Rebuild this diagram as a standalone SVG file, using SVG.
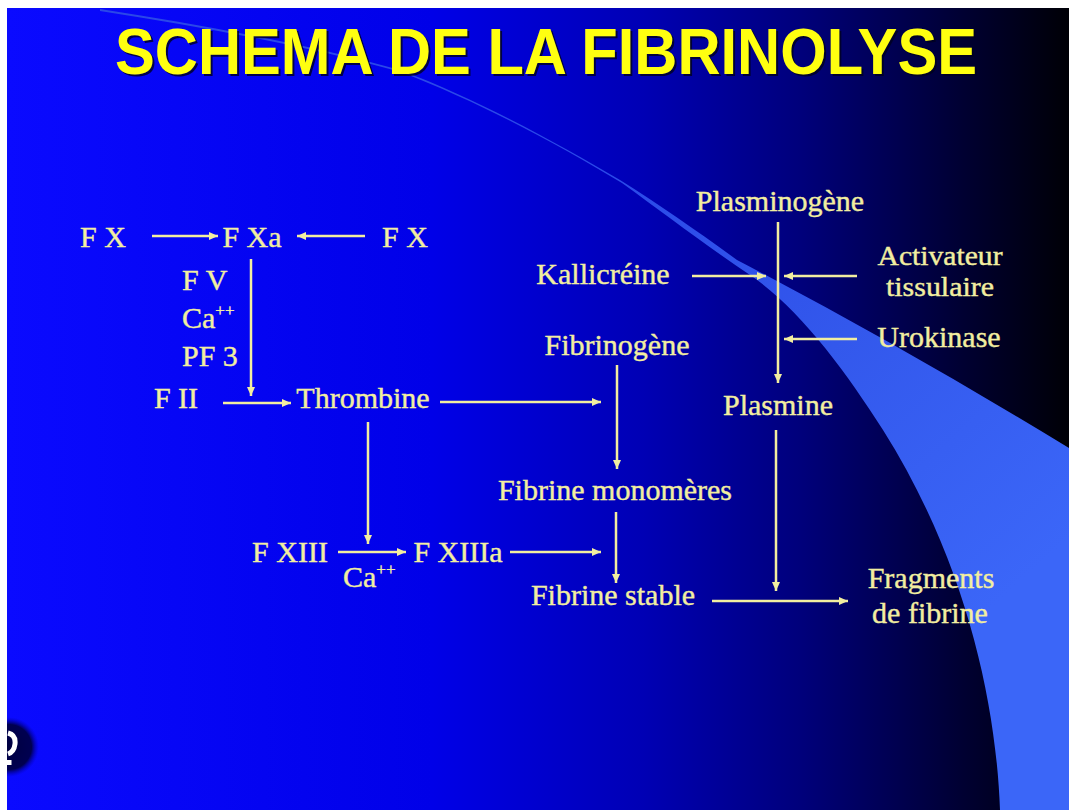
<svg xmlns="http://www.w3.org/2000/svg" width="1069" height="810" viewBox="0 0 1069 810">
<defs>
<linearGradient id="bg" x1="0" y1="0" x2="1" y2="0">
<stop offset="0" stop-color="#0a0aff"/>
<stop offset="0.4" stop-color="#0000e8"/>
<stop offset="0.6" stop-color="#0000b4"/>
<stop offset="0.75" stop-color="#00007a"/>
<stop offset="0.9" stop-color="#000032"/>
<stop offset="1" stop-color="#000006"/>
</linearGradient>
<linearGradient id="band" gradientUnits="userSpaceOnUse" x1="600" y1="150" x2="1000" y2="600">
<stop offset="0" stop-color="#2a48e8"/>
<stop offset="0.5" stop-color="#3358ec"/>
<stop offset="1" stop-color="#3b66f8"/>
</linearGradient>
<radialGradient id="dot" cx="0.5" cy="0.5" r="0.5">
<stop offset="0" stop-color="#000040"/>
<stop offset="0.75" stop-color="#000050"/>
<stop offset="1" stop-color="#0000c0" stop-opacity="0"/>
</radialGradient>
<marker id="ah" markerUnits="userSpaceOnUse" markerWidth="10" markerHeight="10" refX="9" refY="5" orient="auto">
<path d="M0,1 L9,5 L0,9 Z" fill="#f2eea0"/>
</marker>
<style>
.t{font-family:"Liberation Serif","Times New Roman",serif;font-size:30px;fill:#f2eea0;stroke:#f2eea0;stroke-width:0.4}
.m{text-anchor:middle}
.s{font-size:27px}
.sup{font-size:17px}
.c{stroke:#f2eea0;stroke-width:2.5;fill:none;marker-end:url(#ah)}
.title{font-family:"Liberation Sans",Arial,sans-serif;font-weight:bold;font-size:64px}
</style>
</defs>
<rect x="0" y="0" width="1069" height="810" fill="#ffffff"/>
<rect x="7" y="8" width="1062" height="802" fill="url(#bg)"/>
<path d="M100,9 C200,25 300,42 400,70 C480,100 560,145 620,180 C660,205 700,233 737,260 Q900,345 1069,448 L1069,810 L1000,810 C996,700 965,560 883,430 C845,370 800,310 753,277 C705,245 665,214 622,183 C562,147 482,103 401,72 C300,44 200,27 100,11 Z" fill="url(#band)"/>
<circle cx="9" cy="747" r="30" fill="url(#dot)"/>
<path d="M8,733 Q16,735 15,744 Q14,752 8,754 M9,760 L9,765" stroke="#ffffff" stroke-width="5" fill="none"/>
<rect x="0" y="700" width="7" height="110" fill="#ffffff"/>
<g id="title">
<text class="title" x="117" y="76" textLength="862" lengthAdjust="spacingAndGlyphs" fill="#000020" opacity="0.8">SCHEMA DE LA FIBRINOLYSE</text>
<text class="title" x="115" y="74" textLength="862" lengthAdjust="spacingAndGlyphs" fill="#ffff10">SCHEMA DE LA FIBRINOLYSE</text>
</g>
<g id="connectors">
<line class="c" x1="152" y1="236" x2="218" y2="236"/>
<line class="c" x1="365" y1="236" x2="297" y2="236"/>
<line class="c" x1="251" y1="259" x2="251" y2="396"/>
<line class="c" x1="223" y1="403" x2="291" y2="403"/>
<line class="c" x1="440" y1="402" x2="601" y2="402"/>
<line class="c" x1="368" y1="422" x2="368" y2="544"/>
<line class="c" x1="338" y1="552" x2="406" y2="552"/>
<line class="c" x1="510" y1="552" x2="601" y2="552"/>
<line class="c" x1="617" y1="365" x2="617" y2="469"/>
<line class="c" x1="616" y1="512" x2="616" y2="583"/>
<line class="c" x1="712" y1="601" x2="848" y2="601"/>
<line class="c" x1="778" y1="222" x2="778" y2="383"/>
<line class="c" x1="692" y1="276" x2="766" y2="276"/>
<line class="c" x1="857" y1="276" x2="784" y2="276"/>
<line class="c" x1="857" y1="339" x2="784" y2="339"/>
<line class="c" x1="776" y1="430" x2="776" y2="591"/>
</g>
<g id="n-fx1"><text class="t m" x="103" y="247">F X</text></g>
<g id="n-fxa"><text class="t m" x="252" y="247">F Xa</text></g>
<g id="n-fx2"><text class="t m" x="405" y="247">F X</text></g>
<g id="n-cofactors">
<text class="t" x="182" y="290">F V</text>
<text class="t" x="182" y="328">Ca<tspan class="sup" dy="-12">++</tspan></text>
<text class="t" x="182" y="366">PF 3</text>
</g>
<g id="n-fii"><text class="t m" x="176" y="408">F II</text></g>
<g id="n-thrombine"><text class="t m" x="363" y="408">Thrombine</text></g>
<g id="n-fxiii"><text class="t m" x="290" y="562">F XIII</text></g>
<g id="n-ca2"><text class="t" x="343" y="587">Ca<tspan class="sup" dy="-12">++</tspan></text></g>
<g id="n-fxiiia"><text class="t m" x="458" y="562">F XIIIa</text></g>
<g id="n-fibrinogene"><text class="t m" x="617" y="355">Fibrinogène</text></g>
<g id="n-monomeres"><text class="t m" x="615" y="500">Fibrine monomères</text></g>
<g id="n-stable"><text class="t m" x="613" y="605">Fibrine stable</text></g>
<g id="n-plasminogene"><text class="t m" x="780" y="211">Plasminogène</text></g>
<g id="n-kallicreine"><text class="t m" x="603" y="284">Kallicréine</text></g>
<g id="n-activateur">
<text class="t m s" x="940" y="265" textLength="125" lengthAdjust="spacingAndGlyphs">Activateur</text>
<text class="t m s" x="940" y="296" textLength="108" lengthAdjust="spacingAndGlyphs">tissulaire</text>
</g>
<g id="n-urokinase"><text class="t m" x="939" y="347">Urokinase</text></g>
<g id="n-plasmine"><text class="t m" x="778" y="415">Plasmine</text></g>
<g id="n-fragments">
<text class="t m" x="931" y="588">Fragments</text>
<text class="t m" x="930" y="623">de fibrine</text>
</g>
</svg>
